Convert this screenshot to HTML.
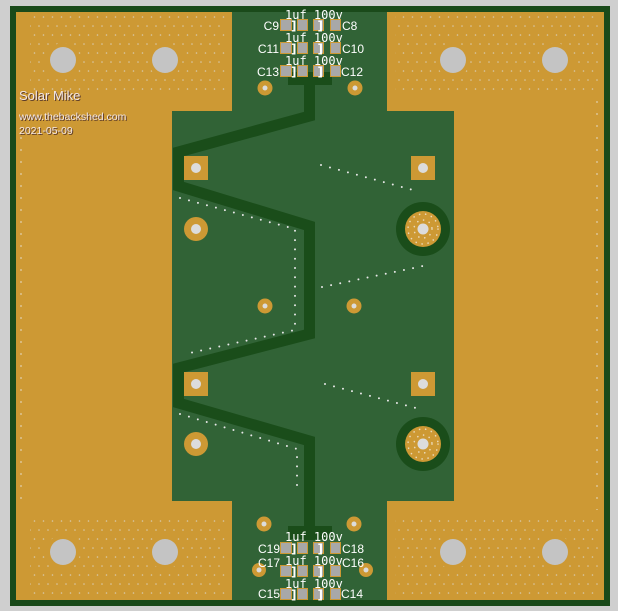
<!DOCTYPE html>
<html><head><meta charset="utf-8"><style>
html,body{margin:0;padding:0;background:#cfcfcf;}
svg{display:block}
</style></head><body>
<svg width="618" height="611" viewBox="0 0 618 611" xmlns="http://www.w3.org/2000/svg">
<defs>
<pattern id="dots" x="0" y="0" width="9" height="18" patternUnits="userSpaceOnUse">
<circle cx="3" cy="8" r="0.8" fill="#d8c8a8"/>
<circle cx="7.5" cy="17" r="0.8" fill="#d8c8a8"/>
</pattern>
<pattern id="vdots" x="0" y="0" width="6" height="12" patternUnits="userSpaceOnUse">
<circle cx="3" cy="6" r="0.9" fill="#e0d0b0"/>
</pattern>
</defs>
<rect x="0" y="0" width="618" height="611" fill="#cfcfcf"/>
<rect x="10" y="6" width="600" height="600" fill="#1a4a1a"/>
<rect x="16" y="12" width="588" height="588" fill="#316336"/>
<g fill="#cd9934">
<polygon points="16,12 232,12 232,111 172,111 172,501 232,501 232,600 16,600"/>
<polygon points="387,12 604,12 604,600 387,600 387,501 454,501 454,111 387,111"/>
</g>
<rect x="30" y="10" width="195" height="84" fill="url(#dots)"/>
<rect x="395" y="10" width="203" height="84" fill="url(#dots)"/>
<rect x="30" y="516" width="195" height="80" fill="url(#dots)"/>
<rect x="395" y="516" width="203" height="80" fill="url(#dots)"/>
<rect x="18" y="135" width="6" height="365" fill="url(#vdots)"/>
<rect x="594" y="100" width="6" height="410" fill="url(#vdots)"/>
<g fill="#cd9934">
<circle cx="63" cy="60" r="17"/><circle cx="165" cy="60" r="17"/><circle cx="453" cy="60" r="17"/><circle cx="555" cy="60" r="17"/>
<circle cx="63" cy="552" r="17"/><circle cx="165" cy="552" r="17"/><circle cx="453" cy="552" r="17"/><circle cx="555" cy="552" r="17"/>
</g>
<g fill="#c4c4c4">
<circle cx="63" cy="60" r="13"/><circle cx="165" cy="60" r="13"/><circle cx="453" cy="60" r="13"/><circle cx="555" cy="60" r="13"/>
<circle cx="63" cy="552" r="13"/><circle cx="165" cy="552" r="13"/><circle cx="453" cy="552" r="13"/><circle cx="555" cy="552" r="13"/>
</g>
<rect x="288" y="72" width="44" height="13" fill="#1a4d1a"/>
<rect x="288" y="526" width="44" height="13" fill="#1a4d1a"/>
<polyline points="309.5,80 309.5,116 178.5,152 178.5,186 309.5,226 309.5,334 178.5,368 178.5,403 309.5,441 309.5,540" fill="none" stroke="#1a4d1a" stroke-width="11" stroke-linejoin="miter"/>
<g fill="none" stroke="#e8e8e8" stroke-width="2" stroke-linecap="round" stroke-dasharray="0 9.3">
<polyline points="321,165 413,190"/>
<polyline points="180,198 295,229 295,330 185,354"/>
<polyline points="322,287 423,266"/>
<polyline points="325,384 416,408"/>
<polyline points="180,414 297,449 297,490"/>
</g>
<g fill="#cd9934">
<rect x="184" y="156" width="24" height="24"/><rect x="411" y="156" width="24" height="24"/>
<rect x="184" y="372" width="24" height="24"/><rect x="411" y="372" width="24" height="24"/>
<circle cx="196" cy="229" r="12"/><circle cx="196" cy="444" r="12"/>
<circle cx="265" cy="306" r="7.5"/><circle cx="354" cy="306" r="7.5"/>
<circle cx="265" cy="88" r="7.5"/><circle cx="355" cy="88" r="7.5"/>
<circle cx="264" cy="524" r="7.5"/><circle cx="354" cy="524" r="7.5"/>
<circle cx="259" cy="570" r="7"/><circle cx="366" cy="570" r="7"/>
</g>
<g fill="#1a4d1a"><circle cx="423" cy="229" r="27"/><circle cx="423" cy="444" r="27"/></g>
<g fill="#cd9934"><circle cx="423" cy="229" r="18"/><circle cx="423" cy="444" r="18"/></g>
<g fill="#dcdcdc">
<circle cx="196" cy="168" r="5"/><circle cx="423" cy="168" r="5"/><circle cx="196" cy="384" r="5"/><circle cx="423" cy="384" r="5"/>
<circle cx="196" cy="229" r="5"/><circle cx="196" cy="444" r="5"/>
<circle cx="423" cy="229" r="5.5"/><circle cx="423" cy="444" r="5.5"/>
<circle cx="265" cy="306" r="2.5"/><circle cx="354" cy="306" r="2.5"/>
<circle cx="265" cy="88" r="2.5"/><circle cx="355" cy="88" r="2.5"/>
<circle cx="264" cy="524" r="2.5"/><circle cx="354" cy="524" r="2.5"/>
<circle cx="259" cy="570" r="2.5"/><circle cx="366" cy="570" r="2.5"/>
</g>
<g fill="none" stroke="#ead9b8" stroke-width="1.6" stroke-dasharray="0.1 6" stroke-linecap="round">
<circle cx="423" cy="229" r="9"/><circle cx="423" cy="229" r="15"/>
<circle cx="423" cy="444" r="9"/><circle cx="423" cy="444" r="15"/>
</g>
<g font-family="'DejaVu Sans Mono','Liberation Mono',monospace" font-size="12" fill="#ffffff">
<text x="285" y="19">1uf 100v</text>
<text x="285" y="42">1uf 100v</text>
<text x="285" y="65">1uf 100v</text>
<text x="285" y="541">1uf 100v</text>
<text x="285" y="565">1uf 100v</text>
<text x="285" y="588">1uf 100v</text>
</g>
<g fill="#a8a8a8" stroke="#cd9934" stroke-width="1">
<rect x="280.5" y="19.5" width="11" height="11"/><rect x="297.5" y="19.5" width="10" height="11"/><rect x="313.5" y="19.5" width="10" height="11"/><rect x="330.5" y="19.5" width="10" height="11"/>
<rect x="280.5" y="42.5" width="11" height="11"/><rect x="297.5" y="42.5" width="10" height="11"/><rect x="313.5" y="42.5" width="10" height="11"/><rect x="330.5" y="42.5" width="10" height="11"/>
<rect x="280.5" y="65.5" width="11" height="11"/><rect x="297.5" y="65.5" width="10" height="11"/><rect x="313.5" y="65.5" width="10" height="11"/><rect x="330.5" y="65.5" width="10" height="11"/>
<rect x="280.5" y="542.5" width="11" height="11"/><rect x="297.5" y="542.5" width="10" height="11"/><rect x="313.5" y="542.5" width="10" height="11"/><rect x="330.5" y="542.5" width="10" height="11"/>
<rect x="280.5" y="565.5" width="11" height="11"/><rect x="297.5" y="565.5" width="10" height="11"/><rect x="313.5" y="565.5" width="10" height="11"/><rect x="330.5" y="565.5" width="10" height="11"/>
<rect x="280.5" y="588.5" width="11" height="11"/><rect x="297.5" y="588.5" width="10" height="11"/><rect x="313.5" y="588.5" width="10" height="11"/><rect x="330.5" y="588.5" width="10" height="11"/>
</g>
<g font-family="'DejaVu Sans','Liberation Sans',sans-serif" font-size="12" font-weight="bold" fill="#ffffff">
<text x="291" y="30">]</text><text x="323" y="30" text-anchor="end">]</text>
<text x="291" y="53">]</text><text x="323" y="53" text-anchor="end">]</text>
<text x="291" y="76">]</text><text x="323" y="76" text-anchor="end">]</text>
<text x="291" y="553">]</text><text x="323" y="553" text-anchor="end">]</text>
<text x="291" y="576">]</text><text x="323" y="576" text-anchor="end">]</text>
<text x="291" y="599">]</text><text x="323" y="599" text-anchor="end">]</text>
</g>
<g font-family="'Liberation Sans',sans-serif" font-size="12" fill="#ffffff">
<text x="279" y="30" text-anchor="end">C9</text><text x="342" y="30">C8</text>
<text x="279" y="53" text-anchor="end">C11</text><text x="342" y="53">C10</text>
<text x="279" y="76" text-anchor="end">C13</text><text x="341" y="76">C12</text>
<text x="280" y="553" text-anchor="end">C19</text><text x="342" y="553">C18</text>
<text x="280" y="567" text-anchor="end">C17</text><text x="342" y="567">C16</text>
<text x="280" y="598" text-anchor="end">C15</text><text x="341" y="598">C14</text>
</g>
<g font-family="'Liberation Sans',sans-serif" fill="#5a3a2a">
<text x="20" y="101" font-size="13">Solar Mike</text>
<text x="20" y="121" font-size="10.5">www.thebackshed.com</text>
<text x="20" y="135" font-size="10.5">2021-05-09</text>
</g>
<g font-family="'Liberation Sans',sans-serif" fill="#f2e6e6">
<text x="19" y="100" font-size="13">Solar Mike</text>
<text x="19" y="120" font-size="10.5">www.thebackshed.com</text>
<text x="19" y="134" font-size="10.5">2021-05-09</text>
</g>
</svg>
</body></html>
